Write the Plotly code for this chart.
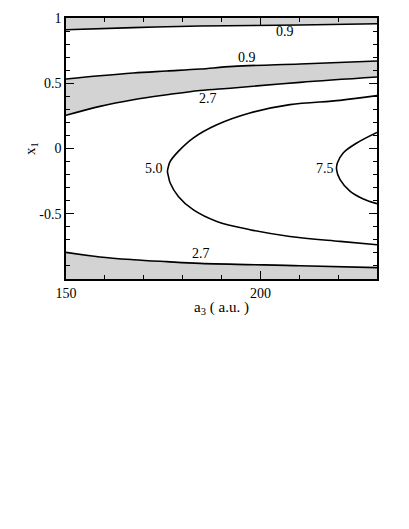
import plotly.graph_objects as go

# contour curves (a3 in a.u., x1)
top09_a = [150, 167.3, 184.5, 210.2, 230]
top09_x = [0.910, 0.926, 0.939, 0.946, 0.956]

band09_a = [150, 158.7, 167.3, 175.9, 184.5, 193.0, 210.2, 230]
band09_x = [0.533, 0.558, 0.579, 0.594, 0.609, 0.629, 0.648, 0.670]

band27_a = [150, 158.7, 167.3, 175.9, 184.5, 193.0, 210.2, 230]
band27_x = [0.254, 0.323, 0.374, 0.412, 0.445, 0.464, 0.507, 0.548]

c50_a = [230, 220.5, 207.6, 197.3, 188.8, 182.7, 178.9, 176.8, 176.35, 176.1,
         176.35, 176.8, 178.9, 182.7, 188.8, 197.3, 207.6, 220.5, 230]
c50_x = [0.405, 0.369, 0.336, 0.272, 0.182, 0.080, -0.022, -0.099, -0.137, -0.175,
         -0.214, -0.264, -0.367, -0.469, -0.559, -0.622, -0.674, -0.712, -0.737]

c75_a = [230, 224.8, 221.3, 219.8, 219.6, 220.5, 223.1, 226.5, 230]
c75_x = [0.123, 0.042, -0.034, -0.111, -0.162, -0.239, -0.329, -0.387, -0.423]

bot27_a = [150, 158.7, 167.3, 175.9, 184.5, 210.2, 230]
bot27_x = [-0.796, -0.831, -0.852, -0.867, -0.880, -0.898, -0.913]

edge_a = [150, 230]
top_edge = [1, 1]
bot_edge = [-1, -1]

labels = ["0.9", "0.9", "2.7", "5.0", "7.5", "2.7"]
label_a = [206.3, 196.5, 186.5, 172.6, 216.7, 184.7]
label_x = [0.895, 0.696, 0.382, -0.157, -0.157, -0.806]

xtick_vals = [150, 200]
xtick_text = ["150", "200"]
ytick_vals = [-0.5, 0, 0.5, 1]
ytick_text = ["-0.5", "0", "0.5", "1"]

gray = "#d3d3d3"
line = dict(color="black", width=1.6, shape="spline")
serif = "Liberation Serif"

fig = go.Figure()

# shaded regions
fig.add_trace(go.Scatter(x=edge_a, y=top_edge, mode="lines", line=dict(width=0)))
fig.add_trace(go.Scatter(x=top09_a, y=top09_x, mode="lines", line=line,
                         fill="tonexty", fillcolor=gray))
fig.add_trace(go.Scatter(x=band27_a, y=band27_x, mode="lines", line=line))
fig.add_trace(go.Scatter(x=band09_a, y=band09_x, mode="lines", line=line,
                         fill="tonexty", fillcolor=gray))
fig.add_trace(go.Scatter(x=edge_a, y=bot_edge, mode="lines", line=dict(width=0)))
fig.add_trace(go.Scatter(x=bot27_a, y=bot27_x, mode="lines", line=line,
                         fill="tonexty", fillcolor=gray))

# open contours coming in from the right edge
fig.add_trace(go.Scatter(x=c50_a, y=c50_x, mode="lines", line=line))
fig.add_trace(go.Scatter(x=c75_a, y=c75_x, mode="lines", line=line))

for t, a, x in zip(labels, label_a, label_x):
    fig.add_annotation(x=a, y=x, text=t, showarrow=False,
                       font=dict(family=serif, size=14, color="black"))

axis_common = dict(
    showline=True, linecolor="black", linewidth=1.5, mirror="allticks",
    ticks="inside", ticklen=8, tickwidth=1, tickcolor="black",
    showgrid=False, zeroline=False, automargin=False,
    tickfont=dict(family=serif, size=14, color="black"),
)

fig.update_xaxes(
    range=[150, 230], tickvals=xtick_vals, ticktext=xtick_text,
    minor=dict(ticks="inside", dtick=10, tick0=150, ticklen=4, tickcolor="black", showgrid=False),
    title=dict(text="a<sub>3</sub> ( a.u. )", font=dict(family=serif, size=15, color="black"),
               standoff=2),
    **axis_common,
)
fig.update_yaxes(
    range=[-1, 1], tickvals=ytick_vals, ticktext=ytick_text,
    minor=dict(ticks="inside", dtick=0.1, tick0=0, ticklen=4, tickcolor="black", showgrid=False),
    title=dict(text="x<sub>1</sub>", font=dict(family=serif, size=15, color="black"),
               standoff=0),
    **axis_common,
)

# page body adds ~8px offset, so margins are trimmed to land the plot box where the reference has it
fig.update_layout(
    width=401, height=521,
    margin=dict(l=58, r=32, t=10, b=250),
    plot_bgcolor="white", paper_bgcolor="white",
    showlegend=False,
)

fig.write_html("out.html")
